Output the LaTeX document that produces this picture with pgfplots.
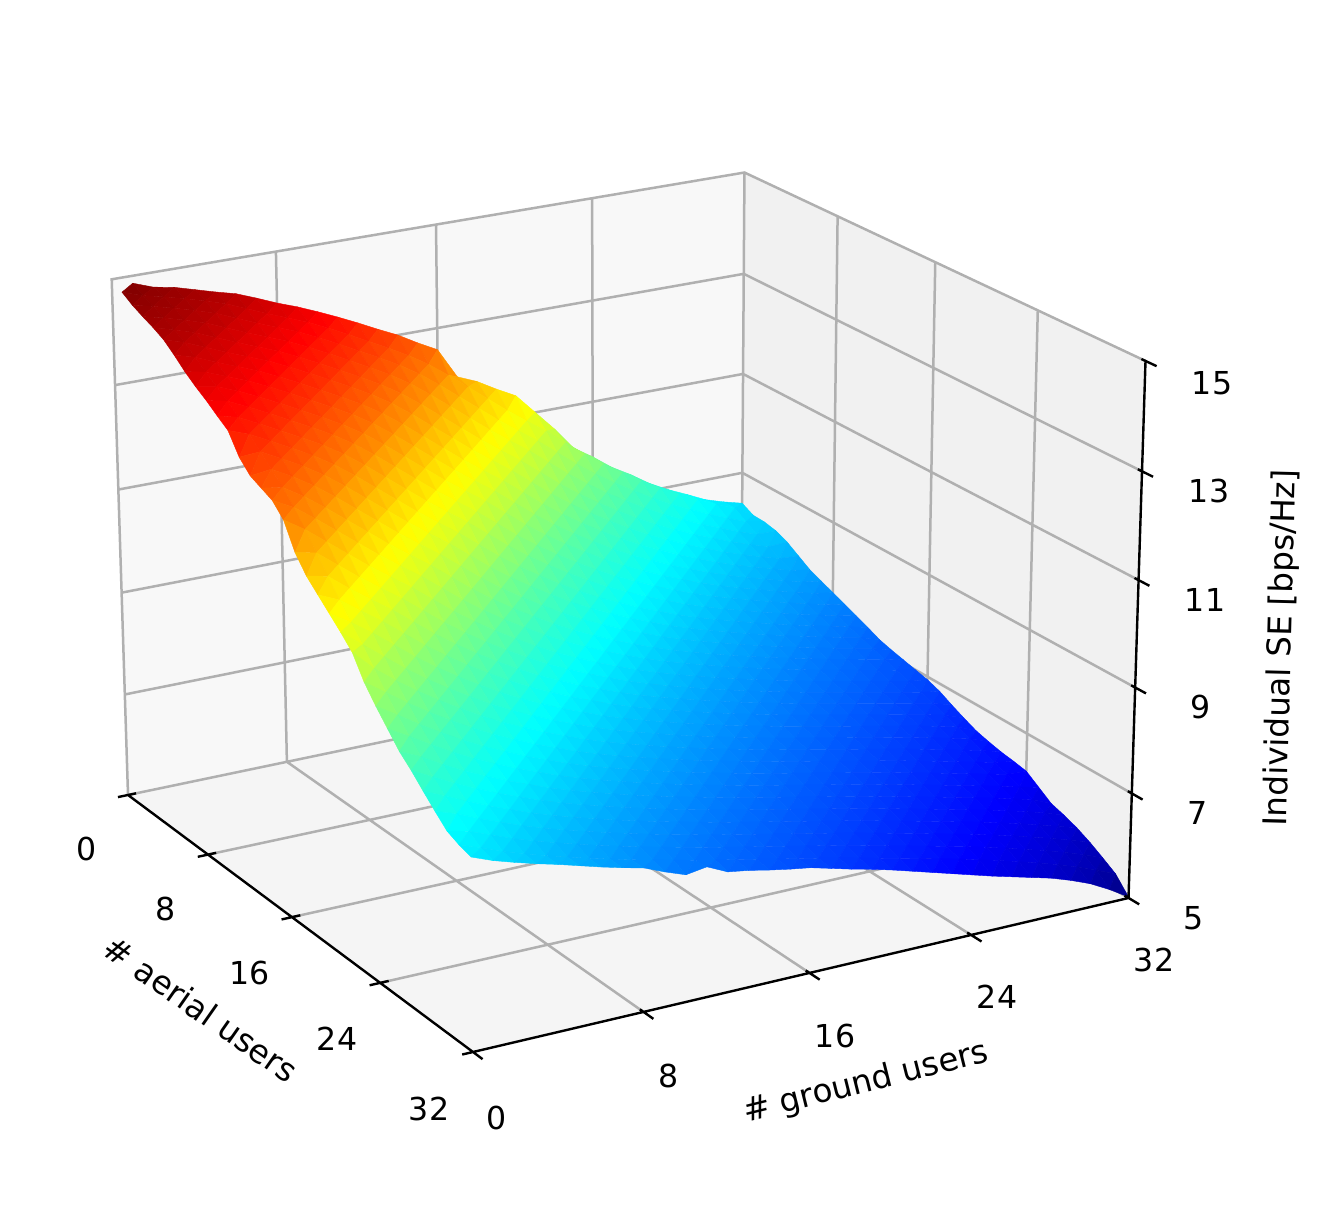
\documentclass[border=0pt]{standalone}
\usepackage{pgfplots}
\usepackage{pgfplotstable}
\usepackage{fontspec}
\setmainfont{DejaVu Sans}
\pgfplotsset{compat=1.18}
\usepgfplotslibrary{patchplots}
\newcommand\PW[3]{(1-0.09423*(#1)+0.04973*(#2)-0.0315*(#3))}
\newcommand\PX[3]{((300.43*(#1)+649.85*(#2)+128-19.82*(#3))/\PW{#1}{#2}{#3})}
\newcommand\PY[3]{(1205-(157.87*(#1)-94.83*(#2)+795-524.5*(#3))/\PW{#1}{#2}{#3})}
\def\IA{(floor((\coordindex+0.5)/33)/32)}
\def\IG{((\coordindex-33*floor((\coordindex+0.5)/33))/32)}
\def\IZ{((\thisrow{se}-5)/10)}
\pgfplotsset{/pgfplots/table/proj/.style={
  x expr={\PX{\thisrow{a}/32}{\thisrow{g}/32}{(\thisrow{z}-5)/10}},
  y expr={\PY{\thisrow{a}/32}{\thisrow{g}/32}{(\thisrow{z}-5)/10}}}}
\definecolor{gridc}{HTML}{B0B0B0}
\pgfplotstableread{
se
14.9
14.86
14.72
14.65
14.54
14.43
14.33
14.18
14.02
13.88
13.72
13.55
13.37
13.18
13.0
12.78
12.58
11.98
11.82
11.6
11.4
11.0
10.6
10.15
9.9
9.62
9.4
9.15
8.95
8.78
8.6
8.48
8.38
14.87
14.74
14.65
14.55
14.44
14.32
14.16
14.0
13.85
13.7
13.52
13.33
13.13
12.93
12.72
12.48
12.2
11.9
11.6
11.3
11.02
10.75
10.45
10.15
9.88
9.63
9.4
9.18
8.98
8.8
8.63
8.48
8.26
14.74
14.65
14.55
14.44
14.32
14.16
14.0
13.85
13.7
13.52
13.33
13.13
12.93
12.72
12.48
12.2
11.9
11.6
11.3
11.02
10.75
10.45
10.15
9.88
9.63
9.4
9.18
8.98
8.8
8.63
8.48
8.33
8.25
14.64
14.55
14.44
14.32
14.16
14.0
13.85
13.7
13.52
13.33
13.13
12.93
12.72
12.48
12.2
11.9
11.6
11.3
11.02
10.75
10.45
10.15
9.88
9.63
9.4
9.18
8.98
8.8
8.63
8.48
8.33
8.2
8.2
14.55
14.44
14.32
14.16
14.0
13.85
13.7
13.52
13.33
13.13
12.93
12.72
12.48
12.2
11.9
11.6
11.3
11.02
10.75
10.45
10.15
9.88
9.63
9.4
9.18
8.98
8.8
8.63
8.48
8.33
8.2
8.08
8.1
14.44
14.32
14.16
14.0
13.85
13.7
13.52
13.33
13.13
12.93
12.72
12.48
12.2
11.9
11.6
11.3
11.02
10.75
10.45
10.15
9.88
9.63
9.4
9.18
8.98
8.8
8.63
8.48
8.33
8.2
8.08
7.97
7.95
14.27
14.16
14.0
13.85
13.7
13.52
13.33
13.13
12.93
12.72
12.48
12.2
11.9
11.6
11.3
11.02
10.75
10.45
10.15
9.88
9.63
9.4
9.18
8.98
8.8
8.63
8.48
8.33
8.2
8.08
7.97
7.86
7.8
14.08
14.0
13.85
13.7
13.52
13.33
13.13
12.93
12.72
12.48
12.2
11.9
11.6
11.3
11.02
10.75
10.45
10.15
9.88
9.63
9.4
9.18
8.98
8.8
8.63
8.48
8.33
8.2
8.08
7.97
7.86
7.76
7.7
13.92
13.85
13.7
13.52
13.33
13.13
12.93
12.72
12.48
12.2
11.9
11.6
11.3
11.02
10.75
10.45
10.15
9.88
9.63
9.4
9.18
8.98
8.8
8.63
8.48
8.33
8.2
8.08
7.97
7.86
7.76
7.66
7.6
13.78
13.7
13.52
13.33
13.13
12.93
12.72
12.48
12.2
11.9
11.6
11.3
11.02
10.75
10.45
10.15
9.88
9.63
9.4
9.18
8.98
8.8
8.63
8.48
8.33
8.2
8.08
7.97
7.86
7.76
7.66
7.57
7.5
13.62
13.52
13.33
13.13
12.93
12.72
12.48
12.2
11.9
11.6
11.3
11.02
10.75
10.45
10.15
9.88
9.63
9.4
9.18
8.98
8.8
8.63
8.48
8.33
8.2
8.08
7.97
7.86
7.76
7.66
7.57
7.48
7.4
13.47
13.33
13.13
12.93
12.72
12.48
12.2
11.9
11.6
11.3
11.02
10.75
10.45
10.15
9.88
9.63
9.4
9.18
8.98
8.8
8.63
8.48
8.33
8.2
8.08
7.97
7.86
7.76
7.66
7.57
7.48
7.39
7.3
13.1
13.13
12.93
12.72
12.48
12.2
11.9
11.6
11.3
11.02
10.75
10.45
10.15
9.88
9.63
9.4
9.18
8.98
8.8
8.63
8.48
8.33
8.2
8.08
7.97
7.86
7.76
7.66
7.57
7.48
7.39
7.31
7.19
12.88
12.93
12.72
12.48
12.2
11.9
11.6
11.3
11.02
10.75
10.45
10.15
9.88
9.63
9.4
9.18
8.98
8.8
8.63
8.48
8.33
8.2
8.08
7.97
7.86
7.76
7.66
7.57
7.48
7.39
7.31
7.23
7.12
12.78
12.72
12.48
12.2
11.9
11.6
11.3
11.02
10.75
10.45
10.15
9.88
9.63
9.4
9.18
8.98
8.8
8.63
8.48
8.33
8.2
8.08
7.97
7.86
7.76
7.66
7.57
7.48
7.39
7.31
7.23
7.15
7.06
12.68
12.48
12.2
11.9
11.6
11.3
11.02
10.75
10.45
10.15
9.88
9.63
9.4
9.18
8.98
8.8
8.63
8.48
8.33
8.2
8.08
7.97
7.86
7.76
7.66
7.57
7.48
7.39
7.31
7.23
7.15
7.07
7.0
12.45
12.2
11.9
11.6
11.3
11.02
10.75
10.45
10.15
9.88
9.63
9.4
9.18
8.98
8.8
8.63
8.48
8.33
8.2
8.08
7.97
7.86
7.76
7.66
7.57
7.48
7.39
7.31
7.23
7.15
7.07
6.99
6.94
11.98
11.9
11.6
11.3
11.02
10.75
10.45
10.15
9.88
9.63
9.4
9.18
8.98
8.8
8.63
8.48
8.33
8.2
8.08
7.97
7.86
7.76
7.66
7.57
7.48
7.39
7.31
7.23
7.15
7.07
6.99
6.91
6.85
11.68
11.6
11.3
11.02
10.75
10.45
10.15
9.88
9.63
9.4
9.18
8.98
8.8
8.63
8.48
8.33
8.2
8.08
7.97
7.86
7.76
7.66
7.57
7.48
7.39
7.31
7.23
7.15
7.07
6.99
6.91
6.83
6.72
11.47
11.3
11.02
10.75
10.45
10.15
9.88
9.63
9.4
9.18
8.98
8.8
8.63
8.48
8.33
8.2
8.08
7.97
7.86
7.76
7.66
7.57
7.48
7.39
7.31
7.23
7.15
7.07
6.99
6.91
6.83
6.74
6.6
11.26
11.02
10.75
10.45
10.15
9.88
9.63
9.4
9.18
8.98
8.8
8.63
8.48
8.33
8.2
8.08
7.97
7.86
7.76
7.66
7.57
7.48
7.39
7.31
7.23
7.15
7.07
6.99
6.91
6.83
6.74
6.65
6.49
11.05
10.75
10.45
10.15
9.88
9.63
9.4
9.18
8.98
8.8
8.63
8.48
8.33
8.2
8.08
7.97
7.86
7.76
7.66
7.57
7.48
7.39
7.31
7.23
7.15
7.07
6.99
6.91
6.83
6.74
6.65
6.56
6.42
10.82
10.45
10.15
9.88
9.63
9.4
9.18
8.98
8.8
8.63
8.48
8.33
8.2
8.08
7.97
7.86
7.76
7.66
7.57
7.48
7.39
7.31
7.23
7.15
7.07
6.99
6.91
6.83
6.74
6.65
6.56
6.47
6.36
10.42
10.15
9.88
9.63
9.4
9.18
8.98
8.8
8.63
8.48
8.33
8.2
8.08
7.97
7.86
7.76
7.66
7.57
7.48
7.39
7.31
7.23
7.15
7.07
6.99
6.91
6.83
6.74
6.65
6.56
6.47
6.38
6.32
10.12
9.88
9.63
9.4
9.18
8.98
8.8
8.63
8.48
8.33
8.2
8.08
7.97
7.86
7.76
7.66
7.57
7.48
7.39
7.31
7.23
7.15
7.07
6.99
6.91
6.83
6.74
6.65
6.56
6.47
6.38
6.29
6.27
9.85
9.63
9.4
9.18
8.98
8.8
8.63
8.48
8.33
8.2
8.08
7.97
7.86
7.76
7.66
7.57
7.48
7.39
7.31
7.23
7.15
7.07
6.99
6.91
6.83
6.74
6.65
6.56
6.47
6.38
6.29
6.19
6.1
9.58
9.4
9.18
8.98
8.8
8.63
8.48
8.33
8.2
8.08
7.97
7.86
7.76
7.66
7.57
7.48
7.39
7.31
7.23
7.15
7.07
6.99
6.91
6.83
6.74
6.65
6.56
6.47
6.38
6.29
6.19
6.09
5.93
9.38
9.18
8.98
8.8
8.63
8.48
8.33
8.2
8.08
7.97
7.86
7.76
7.66
7.57
7.48
7.39
7.31
7.23
7.15
7.07
6.99
6.91
6.83
6.74
6.65
6.56
6.47
6.38
6.29
6.19
6.09
5.98
5.85
9.15
8.98
8.8
8.63
8.48
8.33
8.2
8.08
7.97
7.86
7.76
7.66
7.57
7.48
7.39
7.31
7.23
7.15
7.07
6.99
6.91
6.83
6.74
6.65
6.56
6.47
6.38
6.29
6.19
6.09
5.98
5.87
5.75
8.93
8.8
8.63
8.48
8.33
8.2
8.08
7.97
7.86
7.76
7.66
7.57
7.48
7.39
7.31
7.23
7.15
7.07
6.99
6.91
6.83
6.74
6.65
6.56
6.47
6.38
6.29
6.19
6.09
5.98
5.87
5.75
5.62
8.72
8.63
8.48
8.33
8.2
8.08
7.97
7.86
7.76
7.66
7.57
7.48
7.39
7.31
7.23
7.15
7.07
6.99
6.91
6.83
6.74
6.65
6.56
6.47
6.38
6.29
6.19
6.09
5.98
5.87
5.75
5.62
5.47
8.62
8.48
8.33
8.2
8.08
7.97
7.86
7.76
7.66
7.57
7.48
7.39
7.31
7.23
7.15
7.07
6.99
6.91
6.83
6.74
6.65
6.56
6.47
6.38
6.29
6.19
6.09
5.98
5.87
5.75
5.62
5.47
5.31
8.55
8.4
8.28
8.17
8.07
7.96
7.85
7.75
7.66
7.5
7.36
7.42
7.24
7.18
7.1
7.03
6.97
6.87
6.77
6.68
6.58
6.47
6.36
6.25
6.14
6.03
5.93
5.83
5.73
5.6
5.45
5.25
5.02
}\data
% each facet takes the mean of its three corners
\pgfplotstableforeachcolumnelement{se}\of\data\as\v{\expandafter\xdef\csname zv\pgfplotstablerow\endcsname{\v}}
\newcommand\zz[1]{\csname zv\the\numexpr#1\relax\endcsname}
\newwrite\tf
\newcommand\face[3]{%
  \pgfmathparse{(\zz{#1}+\zz{#2}+\zz{#3})/3}%
  \immediate\write\tf{\the\numexpr#1\relax\space\the\numexpr#2\relax\space\the\numexpr#3\relax\space\pgfmathresult}}
\immediate\openout\tf=tric.dat
\foreach \a in {0,...,31}{\foreach \g in {31,...,0}{%
  \ifnum\numexpr\a+\g\relax>0
  \face{33*\a+\g}{33*(\a+1)+\g}{33*\a+\g+1}%
  \fi
  \face{33*(\a+1)+\g}{33*\a+\g+1}{33*(\a+1)+\g+1}%
}}
\immediate\closeout\tf
\newcommand\Lb[4][0]{\node[rotate=#1,inner sep=0pt,font=\fontsize{15.8}{18}\selectfont] at (axis cs:#2,{1205-#3}) {#4};}
\newcommand\Lc[4][0]{\node[rotate=#1,inner sep=0pt,font=\fontsize{16.3}{18}\selectfont] at (axis cs:#2,{1205-#3}) {#4};}
\begin{document}
\begin{tikzpicture}
\useasboundingbox (0,0) rectangle (663.5pt,602.5pt);
\begin{axis}[at={(0,0)},anchor=south west,x=0.5pt,y=0.5pt,xmin=0,xmax=1327,ymin=0,ymax=1205,hide axis,clip=false,
  colormap/jet,point meta min=5.02,point meta max=14.87]
% panes
\addplot[fill=black!4,draw=none,forget plot] table[proj]{
a g z
0 0 5
32 0 5
32 32 5
0 32 5
};
\definecolor{pl}{HTML}{F8F8F8}\definecolor{pr}{HTML}{F1F1F1}
\addplot[fill=pl,draw=none,forget plot] table[proj]{
a g z
0 0 5
0 32 5
0 32 15
0 0 15
};
\addplot[fill=pr,draw=none,forget plot] table[proj]{
a g z
0 32 5
32 32 5
32 32 15
0 32 15
};
% grid
\addplot[gridc,line width=1.25pt,unbounded coords=jump,forget plot] table[proj]{
a g z
0 0 5
32 0 nan
8 0 5
8 32 5
8 32 15
8 32 nan
16 0 5
16 32 5
16 32 15
16 32 nan
24 0 5
24 32 5
24 32 15
24 32 nan
0 0 5
0 32 5
32 32 5
32 32 nan
0 8 5
32 8 5
32 8 nan
0 8 5
0 8 15
0 8 nan
0 16 5
32 16 5
32 16 nan
0 16 5
0 16 15
0 16 nan
0 24 5
32 24 5
32 24 nan
0 24 5
0 24 15
0 24 nan
0 0 5
0 0 15
0 32 15
32 32 15
32 32 nan
0 32 5
0 32 15
0 32 nan
0 0 7
0 32 7
32 32 7
32 32 nan
0 0 9
0 32 9
32 32 9
32 32 nan
0 0 11
0 32 11
32 32 11
32 32 nan
0 0 13
0 32 13
32 32 13
};
% surface
\addplot[patch,shader=flat,patch table with point meta={tric.dat},line width=0.2pt,forget plot]
 table[x index=0,y index=0,x expr={\PX{\IA}{\IG}{\IZ}},y expr={\PY{\IA}{\IG}{\IZ}}]{\data};
% black axes and ticks
\addplot[black,line width=1.2pt,unbounded coords=jump,forget plot] table[proj]{
a g z
0 0 5
32 0 5
32 32 5
32 32 15
32 32 nan
0 -0.5 5
0 0.4 5
0 0.4 nan
8 -0.5 5
8 0.4 5
8 0.4 nan
16 -0.5 5
16 0.4 5
16 0.4 nan
24 -0.5 5
24 0.4 5
24 0.4 nan
32 -0.5 5
32 0.4 5
32 0.4 nan
31.7 0 5
32.8 0 5
32.8 0 nan
31.7 8 5
32.8 8 5
32.8 8 nan
31.7 16 5
32.8 16 5
32.8 16 nan
31.7 24 5
32.8 24 5
32.8 24 nan
31.7 32 5
32.8 32 5
32.8 32 nan
31.7 32 7
32.8 32 7
32.8 32 nan
31.7 32 9
32.8 32 9
32.8 32 nan
31.7 32 11
32.8 32 11
32.8 32 nan
31.7 32 13
32.8 32 13
32.8 32 nan
31.7 32 15
32.8 32 15
};
\Lb{87}{849}{0}
\Lb{166}{909}{8}
\Lb{250}{973}{16}
\Lb{337}{1039}{24}
\Lb{429}{1109}{32}
\Lb{497}{1118}{0}
\Lb{669}{1076}{8}
\Lb{835}{1036}{16}
\Lb{997}{997}{24}
\Lb{1154}{960}{32}
\Lb{1212}{383}{15}
\Lb{1209}{491}{13}
\Lb{1205}{600}{11}
\Lb{1201}{707}{9}
\Lb{1198}{813}{7}
\Lb{1194}{918}{5}
\Lc[-35]{201}{1009}{\# aerial users}
\Lc[14]{866}{1083}{\# ground users}
\Lc[88.5]{1282}{648}{Individual SE [bps/Hz]}
\end{axis}
\end{tikzpicture}
\end{document}
